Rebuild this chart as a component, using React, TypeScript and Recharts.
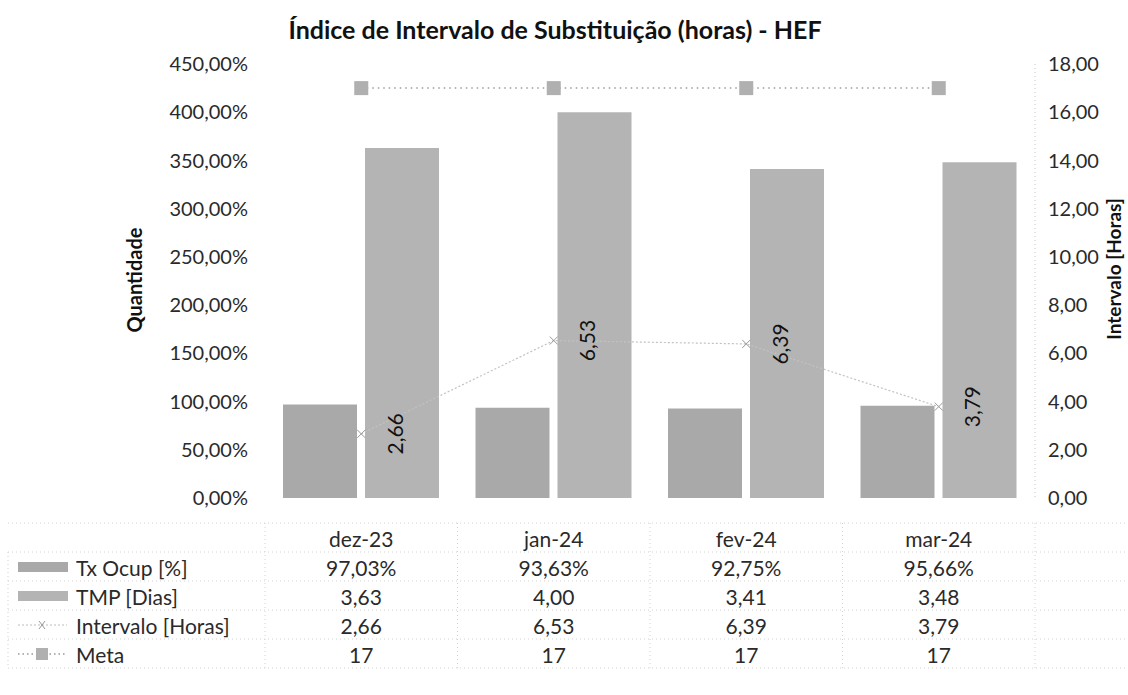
import React from 'react';
import { ComposedChart, Bar, Line, XAxis, YAxis, LabelList, Customized } from 'recharts';

const categories = ['dez-23', 'jan-24', 'fev-24', 'mar-24'];
const txOcup = [0.9703, 0.9363, 0.9275, 0.9566];
const tmpDias = [3.63, 4.0, 3.41, 3.48];
const intervaloHoras = [2.66, 6.53, 6.39, 3.79];
const meta = [17, 17, 17, 17];
const leftTicks = [0, 0.5, 1, 1.5, 2, 2.5, 3, 3.5, 4, 4.5];
const rightTicks = [0, 2, 4, 6, 8, 10, 12, 14, 16, 18];
const seriesNames = ['Tx Ocup [%]', 'TMP [Dias]', 'Intervalo [Horas]', 'Meta'];

const data = categories.map((c, i) => ({
  cat: c,
  tx: txOcup[i],
  tmp: tmpDias[i],
  intervalo: intervaloHoras[i],
  meta: meta[i],
}));

const W = 1128;
const H = 695;
const TOP = 64;
const LEFT_W = 265;
const RIGHT_W = 93;
const X_H = 197;
const PLOT_W = W - LEFT_W - RIGHT_W;
const HALF_BAND = PLOT_W / categories.length / 2;
const FONT = 'Lato, "Open Sans", sans-serif';
const TXT = '#2a2a2a';
const BAR_TX = '#a9a9a9';
const BAR_TMP = '#b4b4b4';
const ROW_OFF = [40, 69, 98, 127, 156];
const GRID_OFF = [25, 54, 83, 112, 141, 170];

const comma = (v: number, d = 2) => v.toFixed(d).replace('.', ',');
const fmtPct = (v: number) => comma(v * 100) + '%';

const rowValues = (i: number) => [
  categories[i],
  fmtPct(txOcup[i]),
  comma(tmpDias[i]),
  comma(intervaloHoras[i]),
  String(meta[i]),
];

const gridStroke = '#d2d2d2';

const TableTick = (props: any) => {
  const { x, y, index } = props;
  const ax = y;
  const vals = rowValues(index);
  const last = index === categories.length - 1;
  return (
    <g fontFamily={FONT}>
      {index === 0 && (
        <g>
          {GRID_OFF.map((o, k) => (
            <line key={'h' + k} x1={8} x2={W} y1={ax + o} y2={ax + o} stroke={gridStroke} strokeDasharray="1 3" />
          ))}
          <line x1={8} x2={8} y1={ax + GRID_OFF[1]} y2={ax + GRID_OFF[5]} stroke={gridStroke} strokeDasharray="1 3" />
          <rect x={18} y={ax + ROW_OFF[1] - 5} width={50} height={10} fill={BAR_TX} />
          <rect x={18} y={ax + ROW_OFF[2] - 5} width={50} height={10} fill={BAR_TMP} />
          <line x1={18} x2={67} y1={ax + ROW_OFF[3]} y2={ax + ROW_OFF[3]} stroke="#bbb" strokeDasharray="2 2" />
          <path d={`M${39} ${ax + ROW_OFF[3] - 4} L${45} ${ax + ROW_OFF[3] + 4} M${45} ${ax + ROW_OFF[3] - 4} L${39} ${ax + ROW_OFF[3] + 4}`} stroke="#999" strokeWidth={1} />
          <line x1={18} x2={67} y1={ax + ROW_OFF[4]} y2={ax + ROW_OFF[4]} stroke="#999" strokeDasharray="1.5 3" strokeWidth={1.5} />
          <rect x={36} y={ax + ROW_OFF[4] - 6} width={12} height={12} fill="#b0b0b0" />
          {seriesNames.map((n, k) => (
            <text key={n} x={76} y={ax + ROW_OFF[k + 1]} dominantBaseline="central" fontSize={21} fill={TXT}>
              {n}
            </text>
          ))}
        </g>
      )}
      <line x1={x - HALF_BAND} x2={x - HALF_BAND} y1={ax + GRID_OFF[0]} y2={ax + GRID_OFF[5]} stroke={gridStroke} strokeDasharray="1 3" />
      {last && (
        <line x1={x + HALF_BAND} x2={x + HALF_BAND} y1={ax + GRID_OFF[0]} y2={ax + GRID_OFF[5]} stroke={gridStroke} strokeDasharray="1 3" />
      )}
      {vals.map((v, k) => (
        <text key={k} x={x} y={ax + ROW_OFF[k]} textAnchor="middle" dominantBaseline="central" fontSize={21} fill={TXT}>
          {v}
        </text>
      ))}
    </g>
  );
};

const IntervalDot = (props: any) => {
  const { cx, cy } = props;
  if (cx == null || cy == null) return null;
  return (
    <path d={`M${cx - 4} ${cy - 4} L${cx + 4} ${cy + 4} M${cx + 4} ${cy - 4} L${cx - 4} ${cy + 4}`} stroke="#999" strokeWidth={1} fill="none" />
  );
};

const MetaDot = (props: any) => {
  const { cx, cy } = props;
  if (cx == null || cy == null) return null;
  return <rect x={cx - 7} y={cy - 7} width={14} height={14} fill="#b0b0b0" />;
};

const IntervalLabel = (props: any) => {
  const { x, y, value } = props;
  if (x == null || y == null) return null;
  const lx = x + 33;
  return (
    <text
      x={lx}
      y={y}
      transform={`rotate(-90, ${lx}, ${y})`}
      textAnchor="middle"
      dominantBaseline="central"
      fontSize={21}
      fontFamily={FONT}
      fill="#111"
    >
      {comma(Number(value))}
    </text>
  );
};

const Title = () => (
  <text x={555} y={29} textAnchor="middle" dominantBaseline="central" fontSize={25} fontWeight="bold" fontFamily={FONT} fill="#111">
    Índice de Intervalo de Substituição (horas) - HEF
  </text>
);

export default function App() {
  return (
    <div style={{ position: 'absolute', left: 0, top: 0, width: W, height: H, background: '#fff' }}>
      <ComposedChart
        width={W}
        height={H}
        data={data}
        margin={{ top: TOP, right: 0, bottom: 0, left: 0 }}
        barGap={8}
        style={{ fontFamily: FONT }}
      >
        <XAxis
          dataKey="cat"
          height={X_H}
          axisLine={false}
          tickLine={false}
          tickSize={0}
          tickMargin={0}
          interval={0}
          tick={<TableTick />}
        />
        <YAxis
          yAxisId="left"
          orientation="left"
          width={LEFT_W}
          domain={[0, 4.5]}
          ticks={leftTicks}
          tickFormatter={fmtPct}
          axisLine={false}
          tickLine={false}
          tickSize={0}
          tickMargin={17}
          tick={{ fontSize: 20, fill: TXT, fontFamily: FONT }}
          label={{
            content: (p: any) => {
              const vb = p.viewBox || { x: 0, y: TOP, height: 434 };
              const cx = 134;
              const cy = vb.y + vb.height / 2 - 1;
              return (
                <text x={cx} y={cy} transform={`rotate(-90, ${cx}, ${cy})`} textAnchor="middle" dominantBaseline="central" fontSize={20} fontWeight="bold" fontFamily={FONT} fill="#111">
                  Quantidade
                </text>
              );
            },
          }}
        />
        <YAxis
          yAxisId="right"
          orientation="right"
          width={RIGHT_W}
          domain={[0, 18]}
          ticks={rightTicks}
          tickFormatter={(v: number) => comma(v)}
          axisLine={{ stroke: '#c4c4c4', strokeDasharray: '1 3' }}
          tickLine={false}
          tickSize={0}
          tickMargin={13}
          tick={{ fontSize: 20, fill: TXT, fontFamily: FONT, textAnchor: 'start' }}
          label={{
            content: (p: any) => {
              const vb = p.viewBox || { x: W - RIGHT_W, y: TOP, height: 434 };
              const cx = 1113;
              const cy = vb.y + vb.height / 2 - 12;
              return (
                <text x={cx} y={cy} transform={`rotate(-90, ${cx}, ${cy})`} textAnchor="middle" dominantBaseline="central" fontSize={19} fontWeight="bold" fontFamily={FONT} fill="#111">
                  Intervalo [Horas]
                </text>
              );
            },
          }}
        />
        <Bar yAxisId="left" dataKey="tx" name="Tx Ocup [%]" fill={BAR_TX} barSize={74} isAnimationActive={false} />
        <Bar yAxisId="left" dataKey="tmp" name="TMP [Dias]" fill={BAR_TMP} barSize={74} isAnimationActive={false} />
        <Line
          yAxisId="right"
          dataKey="intervalo"
          name="Intervalo [Horas]"
          stroke="#c2c2c2"
          strokeWidth={1.2}
          strokeDasharray="2 2"
          dot={<IntervalDot />}
          activeDot={false}
          isAnimationActive={false}
        >
          <LabelList dataKey="intervalo" content={<IntervalLabel />} />
        </Line>
        <Line
          yAxisId="right"
          dataKey="meta"
          name="Meta"
          stroke="#9a9a9a"
          strokeWidth={1.5}
          strokeDasharray="1.5 4"
          dot={<MetaDot />}
          activeDot={false}
          isAnimationActive={false}
        />
        <Customized component={<Title />} />
      </ComposedChart>
    </div>
  );
}
